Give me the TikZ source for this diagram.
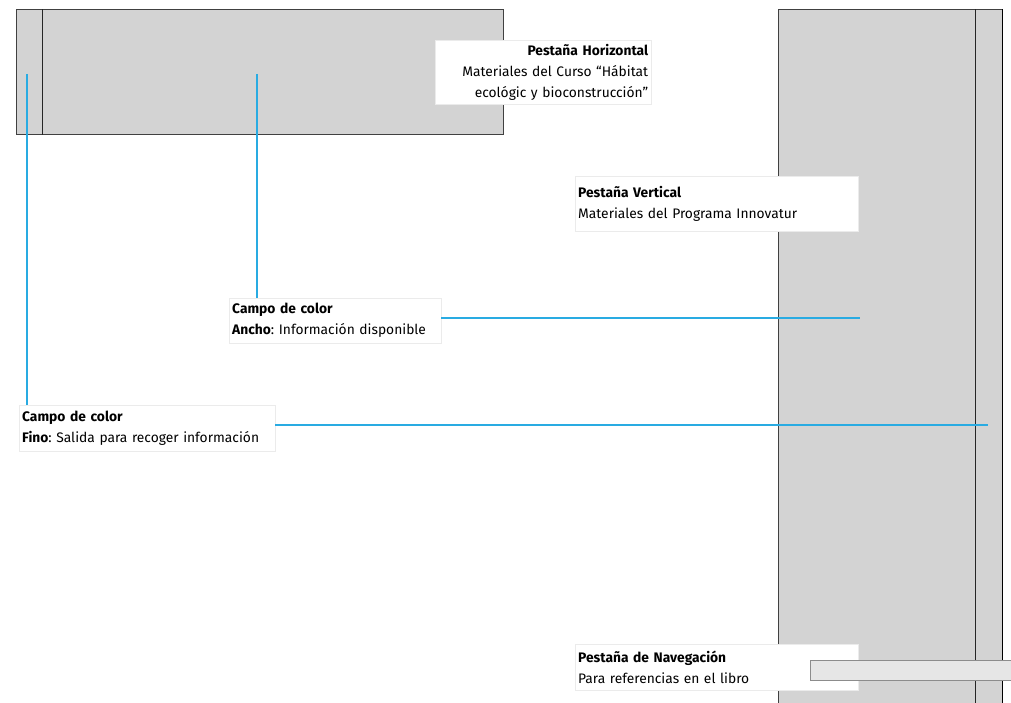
\documentclass[tikz,border=0pt]{standalone}
\usepackage{fontspec}
\setmainfont{Fira Sans}
\usetikzlibrary{positioning}
\definecolor{leadblue}{RGB}{41,171,226}
\definecolor{tabgray}{RGB}{211,211,211}
\definecolor{navgray}{RGB}{230,230,230}
\frenchspacing

\begin{document}
\begin{tikzpicture}[x=1pt,y=-1pt,
  tab/.style={draw=black!75,line width=1pt,fill=tabgray,inner sep=0pt},
  tabline/.style={draw=black!85,line width=1pt},
  lbl/.style={draw=black!8,fill=white,inner xsep=3pt,inner ysep=4pt,anchor=north west,
    font=\fontsize{13.8}{21}\selectfont},
  lead/.style={draw=leadblue,line width=1.1pt}]
  \useasboundingbox (0,0) rectangle (1011,703);

  \node[tab,minimum width=487pt,minimum height=125pt] (htab) at (259.5,72.5) {};
  \node[tab,minimum width=224pt,minimum height=710pt] (vtab) at (890,365) {};
  \draw[tabline] ([xshift=27pt]htab.north west) -- ([xshift=27pt]htab.south west);
  \draw[tabline] ([xshift=-27pt]vtab.north east) -- ([xshift=-27pt]vtab.south east);
  \draw[black,line width=1.6pt] (vtab.north east) -- (vtab.south east);

  \node[lbl,align=right,text width=210pt,minimum height=63pt] (hlabel) at (435,40)
    {\textbf{Pestaña Horizontal}\\Materiales del Curso “Hábitat\\ecológic y bioconstrucción”};
  \node[lbl,align=left,text width=277pt,minimum height=55pt] (vlabel) at (575,176)
    {\textbf{Pestaña Vertical}\\Materiales del Programa Innovatur};
  \node[lbl,align=left,text width=206pt,minimum height=45pt] (ancho) at (229,298)
    {\textbf{Campo de color}\\\textbf{Ancho}: Información disponible};
  \node[lbl,align=left,text width=250pt,minimum height=46pt] (fino) at (19,405)
    {\textbf{Campo de color}\\\textbf{Fino}: Salida para recoger información};
  \node[lbl,align=left,text width=277pt,minimum height=46pt] (nlabel) at (575,644)
    {\textbf{Pestaña de Navegación}\\Para referencias en el libro};
  \node[draw=black!45,fill=navgray,minimum width=205pt,minimum height=20pt,inner sep=0pt] (navbar) at (912.5,670) {};

  % leader lines
  \coordinate (fintop) at (27,74);
  \coordinate (finend) at (988,425);
  \coordinate (anctop) at (257,74);
  \coordinate (ancend) at (860,318);

  \draw[lead] (fintop) -- (fintop |- fino.north);
  \draw[lead] (fino.east |- finend) -- (finend);
  \draw[lead] (anctop) -- (anctop |- ancho.north);
  \draw[lead] (ancho.east |- ancend) -- (ancend);

\end{tikzpicture}
\end{document}
